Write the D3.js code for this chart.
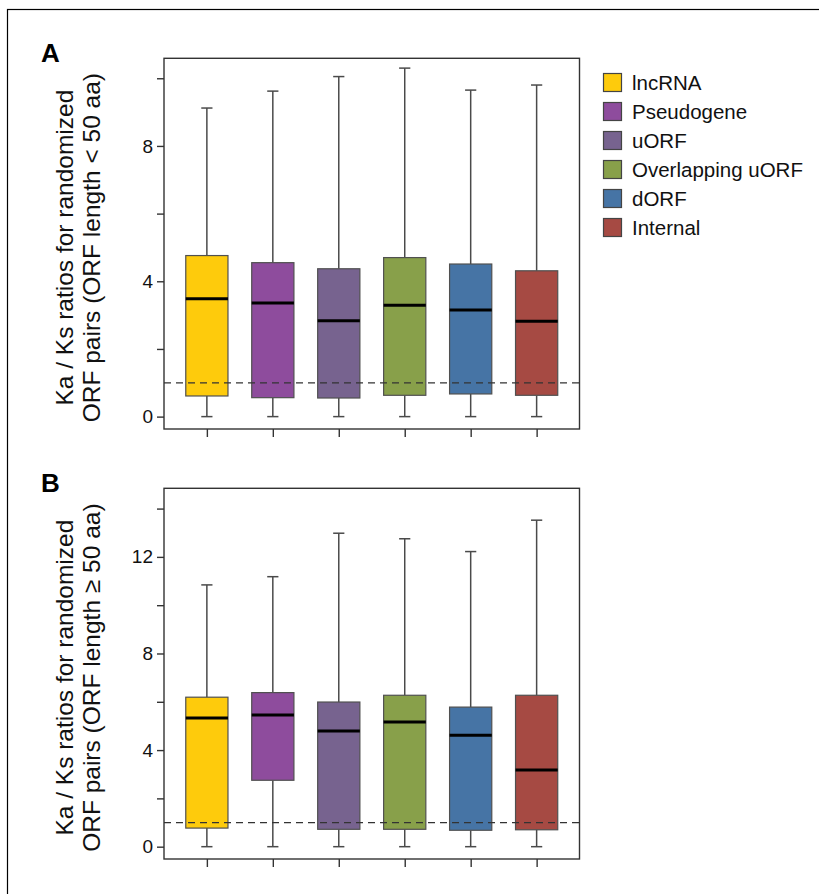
<!DOCTYPE html>
<html>
<head>
<meta charset="utf-8">
<script src="https://cdn.jsdelivr.net/npm/d3@7"></script>
<style>
  html, body { margin: 0; padding: 0; background: #fff; }
  svg { display: block; font-family: "Liberation Sans", Arial, sans-serif; }
</style>
</head>
<body>
<script>
// ORF classes and their fill colours
const categories = ["lncRNA", "Pseudogene", "uORF", "Overlapping uORF", "dORF", "Internal"];
const colors = ["#FECB0C", "#8E4C9D", "#77638F", "#88A04A", "#4674A5", "#A64A43"];

// Panel A: ORF length < 50 aa (five-number summaries)
const shortLow    = [0, 0, 0, 0, 0, 0];
const shortQ1     = [0.61, 0.56, 0.55, 0.63, 0.67, 0.63];
const shortMedian = [3.48, 3.36, 2.83, 3.29, 3.15, 2.82];
const shortQ3     = [4.76, 4.55, 4.37, 4.70, 4.51, 4.31];
const shortHigh   = [9.12, 9.62, 10.05, 10.30, 9.65, 9.80];

// Panel B: ORF length >= 50 aa
const longLow    = [0, 0, 0, 0, 0, 0];
const longQ1     = [0.77, 2.75, 0.72, 0.72, 0.68, 0.70];
const longMedian = [5.33, 5.45, 4.79, 5.16, 4.61, 3.18];
const longQ3     = [6.19, 6.38, 5.99, 6.27, 5.78, 6.27];
const longHigh   = [10.84, 11.18, 12.98, 12.75, 12.22, 13.52];

// Axis ticks
const shortTicks = [0, 2, 4, 6, 8, 10];
const longTicks  = [0, 2, 4, 6, 8, 10, 12, 14];
const labelledTicks = [0, 4, 8, 12];

// Neutral evolution reference line (Ka/Ks = 1)
const neutralRatio = 1;

const W = 819, H = 894;
const svg = d3.select("body").append("svg").attr("width", W).attr("height", H);

// figure frame
svg.append("rect")
  .attr("x", 7.5).attr("y", 9.5).attr("width", 900).attr("height", 1000)
  .attr("fill", "none").attr("stroke", "#000").attr("stroke-width", 1.2);

const plotLeft = 164, plotRight = 579.5;
const x = d3.scaleLinear().domain([0.35, categories.length + 0.65]).range([plotLeft, plotRight]);
const boxHalf = 0.32, capHalf = 0.085;

function panel(opts) {
  const { top, bottom, domain, ticks, low, q1, med, q3, high, letter, title2 } = opts;
  const y = d3.scaleLinear().domain(domain).range([bottom, top]);
  const g = svg.append("g");

  const rows = categories.map((c, i) => ({
    c, i, low: low[i], q1: q1[i], med: med[i], q3: q3[i], high: high[i], color: colors[i]
  }));

  // whiskers
  const wk = g.append("g").attr("stroke", "#4a4a4a").attr("stroke-width", 1.5);
  rows.forEach(d => {
    const cx = x(d.i + 1);
    wk.append("line").attr("x1", cx).attr("x2", cx).attr("y1", y(d.q3)).attr("y2", y(d.high));
    wk.append("line").attr("x1", cx).attr("x2", cx).attr("y1", y(d.q1)).attr("y2", y(d.low));
    wk.append("line").attr("x1", x(d.i + 1 - capHalf)).attr("x2", x(d.i + 1 + capHalf))
      .attr("y1", y(d.high)).attr("y2", y(d.high));
    wk.append("line").attr("x1", x(d.i + 1 - capHalf)).attr("x2", x(d.i + 1 + capHalf))
      .attr("y1", y(d.low)).attr("y2", y(d.low));
  });

  // boxes
  g.selectAll("rect.box").data(rows).join("rect")
    .attr("class", "box")
    .attr("x", d => x(d.i + 1 - boxHalf))
    .attr("width", d => x(d.i + 1 + boxHalf) - x(d.i + 1 - boxHalf))
    .attr("y", d => y(d.q3))
    .attr("height", d => y(d.q1) - y(d.q3))
    .attr("fill", d => d.color)
    .attr("stroke", "#505050").attr("stroke-width", 1.2);

  // medians
  g.selectAll("line.med").data(rows).join("line")
    .attr("class", "med")
    .attr("x1", d => x(d.i + 1 - boxHalf)).attr("x2", d => x(d.i + 1 + boxHalf))
    .attr("y1", d => y(d.med)).attr("y2", d => y(d.med))
    .attr("stroke", "#000").attr("stroke-width", 3);

  // Ka/Ks = 1 reference
  g.append("line")
    .attr("x1", plotLeft).attr("x2", plotRight)
    .attr("y1", y(neutralRatio)).attr("y2", y(neutralRatio))
    .attr("stroke", "#333").attr("stroke-width", 1.3).attr("stroke-dasharray", "7,5");

  // plot frame
  g.append("rect")
    .attr("x", plotLeft).attr("y", top)
    .attr("width", plotRight - plotLeft).attr("height", bottom - top)
    .attr("fill", "none").attr("stroke", "#333").attr("stroke-width", 1.4);

  // y axis
  const yAxis = d3.axisLeft(y)
    .tickValues(ticks)
    .tickSize(7).tickPadding(4)
    .tickFormat(v => labelledTicks.includes(v) ? String(v) : "");
  const ya = g.append("g").attr("transform", `translate(${plotLeft},0)`).call(yAxis);
  ya.select(".domain").remove();
  ya.selectAll(".tick line").attr("stroke", "#333").attr("stroke-width", 1.4);
  ya.selectAll(".tick text").attr("font-size", 19).attr("fill", "#111")
    .attr("font-family", "Liberation Sans, Arial, sans-serif");

  // x axis ticks (unlabelled)
  const xAxis = d3.axisBottom(x)
    .tickValues(categories.map((c, i) => i + 1))
    .tickSize(8).tickFormat("");
  const xa = g.append("g").attr("transform", `translate(0,${bottom})`).call(xAxis);
  xa.select(".domain").remove();
  xa.selectAll(".tick line").attr("stroke", "#333").attr("stroke-width", 1.4);

  // axis title (two lines)
  const cy = (top + bottom) / 2 + 4;
  g.append("text")
    .attr("transform", `translate(73,${cy}) rotate(-90)`)
    .attr("text-anchor", "middle").attr("font-size", 24.5).attr("fill", "#111")
    .text("Ka / Ks ratios for randomized");
  g.append("text")
    .attr("transform", `translate(100,${cy}) rotate(-90)`)
    .attr("text-anchor", "middle").attr("font-size", 24.5).attr("fill", "#111")
    .text(title2);

  // panel letter
  g.append("text")
    .attr("x", 41).attr("y", top + 4)
    .attr("font-size", 26).attr("font-weight", "bold").attr("fill", "#000")
    .text(letter);
}

panel({
  top: 58.3, bottom: 429, domain: [-0.366, 10.59], ticks: shortTicks,
  low: shortLow, q1: shortQ1, med: shortMedian, q3: shortQ3, high: shortHigh,
  letter: "A", title2: "ORF pairs (ORF length < 50 aa)"
});

panel({
  top: 488.3, bottom: 859, domain: [-0.51, 14.84], ticks: longTicks,
  low: longLow, q1: longQ1, med: longMedian, q3: longQ3, high: longHigh,
  letter: "B", title2: "ORF pairs (ORF length \u2265 50 aa)"
});

// legend
const legend = svg.append("g").attr("transform", "translate(603,73)");
const item = legend.selectAll("g").data(categories).join("g")
  .attr("transform", (d, i) => `translate(0,${i * 29})`);
item.append("rect")
  .attr("x", 0.5).attr("y", 0.5).attr("width", 18).attr("height", 18)
  .attr("fill", (d, i) => colors[i]).attr("stroke", "#444").attr("stroke-width", 1.2);
item.append("text")
  .attr("x", 29).attr("y", 17)
  .attr("font-size", 20.5).attr("fill", "#111")
  .text(d => d);
</script>
</body>
</html>
